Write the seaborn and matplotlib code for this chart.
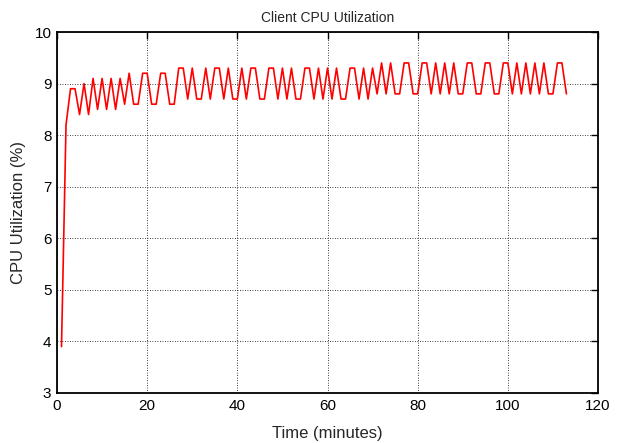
import matplotlib
matplotlib.use("Agg")
import matplotlib.pyplot as plt
import seaborn as sns
import pandas as pd

minutes = list(range(1, 114))
cpu_util = [
    3.9, 8.2, 8.9, 8.9, 8.4, 9.0, 8.4, 9.1, 8.5, 9.1,
    8.5, 9.1, 8.5, 9.1, 8.6, 9.2, 8.6, 8.6, 9.2, 9.2,
    8.6, 8.6, 9.2, 9.2, 8.6, 8.6, 9.3, 9.3, 8.7, 9.3,
    8.7, 8.7, 9.3, 8.7, 9.3, 9.3, 8.7, 9.3, 8.7, 8.7,
    9.3, 8.7, 9.3, 9.3, 8.7, 8.7, 9.3, 9.3, 8.7, 9.3,
    8.7, 9.3, 8.7, 8.7, 9.3, 9.3, 8.7, 9.3, 8.7, 9.3,
    8.7, 9.3, 8.7, 8.7, 9.3, 9.3, 8.7, 9.3, 8.7, 9.3,
    8.8, 9.4, 8.8, 9.4, 8.8, 8.8, 9.4, 9.4, 8.8, 8.8,
    9.4, 9.4, 8.8, 9.4, 8.8, 9.4, 8.8, 9.4, 8.8, 8.8,
    9.4, 9.4, 8.8, 8.8, 9.4, 9.4, 8.8, 8.8, 9.4, 9.4,
    8.8, 9.4, 8.8, 9.4, 8.8, 9.4, 8.8, 9.4, 8.8, 8.8,
    9.4, 9.4, 8.8,
]
x_ticks = [0, 20, 40, 60, 80, 100, 120]
y_ticks = [3, 4, 5, 6, 7, 8, 9, 10]
title = "Client CPU Utilization"
x_label = "Time (minutes)"
y_label = "CPU Utilization (%)"

sns.set_style("white")
plt.rcParams["font.family"] = ["Liberation Sans", "DejaVu Sans"]

df = pd.DataFrame({"minute": minutes, "cpu": cpu_util})

fig = plt.figure(figsize=(6.19, 4.43), dpi=100)
ax = fig.add_axes([57 / 619, 1 - 393 / 443, (598 - 57) / 619, (393 - 32) / 443])

sns.lineplot(data=df, x="minute", y="cpu", ax=ax, color="#ff0000",
             linewidth=1.2, estimator=None, legend=False)

ax.set_xlim(0, 120)
ax.set_ylim(3, 10)
ax.set_xticks(x_ticks)
ax.set_yticks(y_ticks)
ax.set_xticklabels([str(t) for t in x_ticks], fontsize=11)
ax.set_yticklabels([str(t) for t in y_ticks], fontsize=11)
ax.tick_params(direction="in", length=5, width=1.0, top=True, right=True,
               colors="black", pad=4)
for s in ax.spines.values():
    s.set_visible(True)
    s.set_color("black")
    s.set_linewidth(1.3)

ax.grid(True, color="black", linestyle=(0, (1, 2)), linewidth=0.6)

ax.set_xlabel(x_label, fontsize=12, labelpad=10)
ax.set_ylabel(y_label, fontsize=12, labelpad=6)
ax.set_title(title, fontsize=10, pad=7)

fig.savefig("out.png", dpi=100)
